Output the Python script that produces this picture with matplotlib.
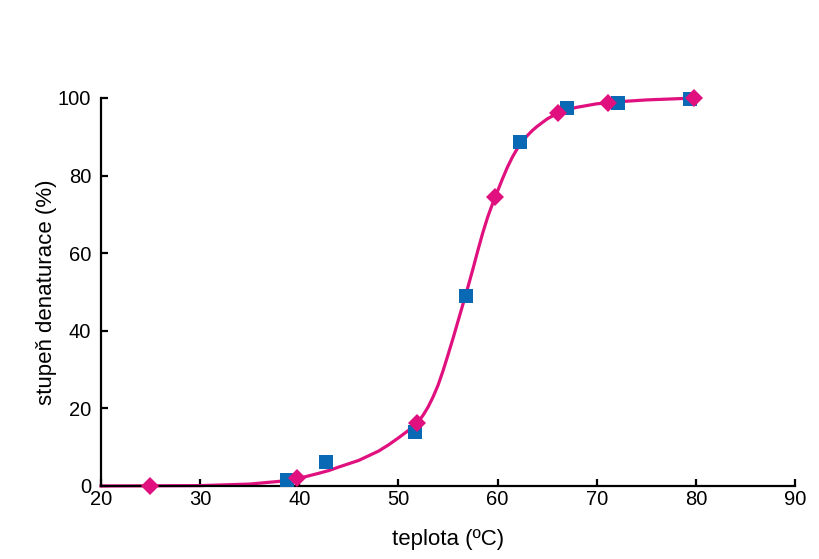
import matplotlib
matplotlib.use('Agg')
import matplotlib.pyplot as plt

# ======================
# DATA
# ======================
# mereni 1 (ctverce)
sq_x = [38.8, 42.7, 51.7, 56.8, 62.3, 67.0, 72.1, 79.4]
sq_y = [1.5, 6.3, 13.8, 49.0, 88.7, 97.4, 98.8, 99.8]

# mereni 2 (kosoctverce)
dm_x = [24.9, 39.8, 51.9, 59.7, 66.1, 71.1, 79.8]
dm_y = [0.0, 2.0, 16.2, 74.4, 96.1, 98.6, 100.0]

# prolozena krivka
fit_x = [20, 30, 35, 38, 40, 42, 43, 44, 46, 48, 49, 50, 51, 52, 52.5, 53,
         53.5, 54, 54.5, 55, 55.5, 56, 56.5, 57, 57.5, 58, 58.5, 59, 59.5,
         60, 60.5, 61, 61.5, 62, 62.5, 63, 63.5, 64, 65, 66, 67, 68, 70, 72,
         75, 80]
fit_y = [0, 0.1, 0.5, 1.2, 2.0, 3.3, 4.0, 4.9, 6.6, 9.0, 10.6, 12.4, 14.3,
         16.5, 18.3, 20.4, 23.0, 26.0, 29.7, 33.8, 38.0, 42.4, 46.8, 51.2,
         55.8, 60.6, 65.2, 69.3, 72.8, 76.0, 79.2, 82.2, 84.8, 87.0, 88.8,
         90.3, 91.6, 92.7, 94.6, 96.0, 97.0, 97.6, 98.5, 99.0, 99.5, 100.0]

x_ticks = [20, 30, 40, 50, 60, 70, 80, 90]
y_ticks = [0, 20, 40, 60, 80, 100]

pink = '#E0117F'
blue = '#0A69B4'

# ======================
# GRAF
# ======================
plt.rcParams['font.family'] = ['Liberation Sans', 'DejaVu Sans']

fig = plt.figure(figsize=(8.2, 5.59), dpi=100)
ax = fig.add_axes([0.1232, 0.1306, 0.8463, 0.6941])

ax.plot(fit_x, fit_y, color=pink, lw=2.3, zorder=2, clip_on=False)
ax.plot(sq_x, sq_y, 's', color=blue, ms=10, mew=0, zorder=3, clip_on=False)
ax.plot(dm_x, dm_y, 'D', color=pink, ms=9.5, mew=0, zorder=4, clip_on=False)

ax.set_xlim(20, 90)
ax.set_ylim(0, 100)
ax.set_xticks(x_ticks)
ax.set_yticks(y_ticks)

for s in ['top', 'right']:
    ax.spines[s].set_visible(False)
for s in ['left', 'bottom']:
    ax.spines[s].set_linewidth(1.6)

ax.tick_params(axis='both', direction='in', length=5, width=1.6, labelsize=14.5)
ax.tick_params(axis='x', pad=3)
ax.tick_params(axis='y', pad=7)

ax.set_xlabel('teplota (ºC)', fontsize=16, labelpad=14)
ax.set_ylabel('stupeň denaturace (%)', fontsize=16, labelpad=1)

plt.savefig('out.png', dpi=100)
